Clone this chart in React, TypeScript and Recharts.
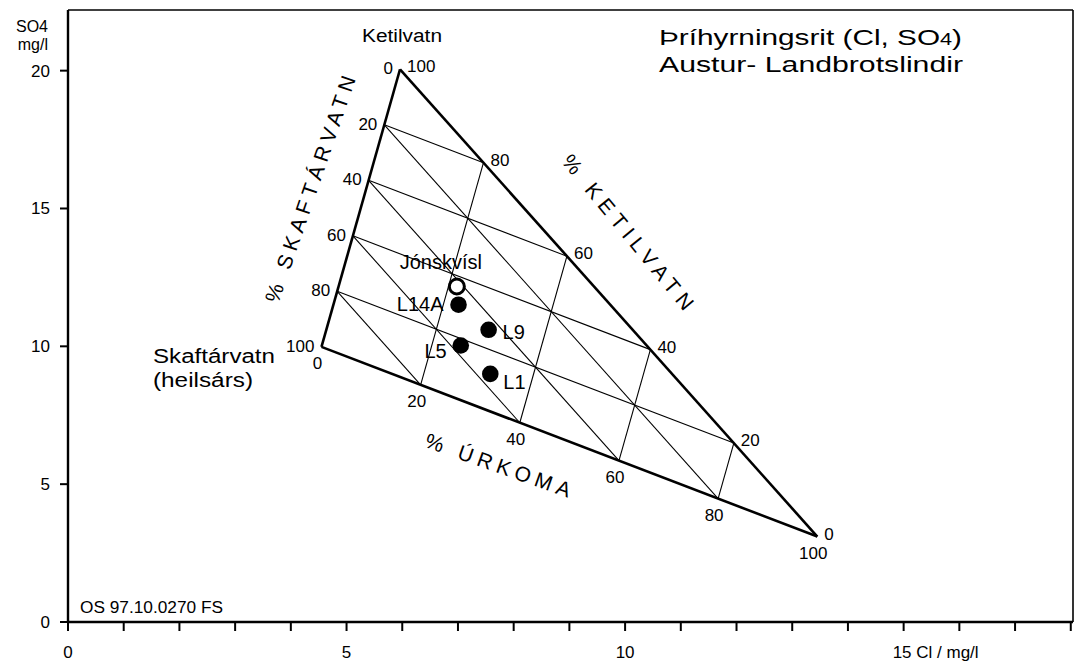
import React from 'react';
import { ScatterChart, Scatter, XAxis, YAxis, ReferenceLine } from 'recharts';

const FONT = '"Liberation Sans", Arial, Helvetica, sans-serif';

// end-members of the mixing triangle (Cl, SO4 in mg/l)
const endMemberNames = ['Ketilvatn', 'Skaftárvatn', 'Úrkoma'];
const endMemberCl = [5.96, 4.55, 13.45];
const endMemberSO4 = [20.05, 9.98, 3.1];

// river sample (open circle)
const riverNames = ['Jónskvísl'];
const riverCl = [6.98];
const riverSO4 = [12.17];

// spring samples (filled circles)
const springNames = ['L14A', 'L9', 'L5', 'L1'];
const springCl = [7.01, 7.55, 7.05, 7.58];
const springSO4 = [11.51, 10.6, 10.03, 9.0];

const gridLevels = [20, 40, 60, 80];
const percentTicks = [0, 20, 40, 60, 80, 100];

const xTicks = [0, 1, 2, 3, 4, 5, 6, 7, 8, 9, 10, 11, 12, 13, 14, 15, 16, 17, 18];
const xTickLabels: Record<number, string> = { 0: '0', 5: '5', 10: '10', 15: '15 Cl / mg/l' };
const yTicks = [0, 5, 10, 15, 20];

const X_MAX = 18.04;
const Y_MAX = 22.2;

// where each sample label sits relative to its marker
const labelPlacement: Record<string, { dx: number; dy: number; anchor: string }> = {
  'Jónskvísl': { dx: -16, dy: -18, anchor: 'middle' },
  L14A: { dx: -15, dy: 6, anchor: 'end' },
  L9: { dx: 14, dy: 9, anchor: 'start' },
  L5: { dx: -14, dy: 13, anchor: 'end' },
  L1: { dx: 13, dy: 15, anchor: 'start' },
};

const vertex = endMemberNames.map((_, i) => ({ x: endMemberCl[i], y: endMemberSO4[i] }));
const [K, S, U] = vertex;

// fractions of Ketilvatn, Skaftárvatn, Úrkoma -> Cl/SO4 position
const mix = (k: number, s: number, u: number) => ({
  x: k * K.x + s * S.x + u * U.x,
  y: k * K.y + s * S.y + u * U.y,
});

const sides = [
  [K, S],
  [S, U],
  [U, K],
];

const gridSegments = gridLevels.flatMap((p) => {
  const f = p / 100;
  return [
    [mix(f, 1 - f, 0), mix(f, 0, 1 - f)],
    [mix(1 - f, f, 0), mix(0, f, 1 - f)],
    [mix(0, 1 - f, f), mix(1 - f, 0, f)],
  ];
});

const skaftTicks = percentTicks.map((p) => ({ ...mix(1 - p / 100, p / 100, 0), label: String(p) }));
const ketilTicks = percentTicks.map((p) => ({ ...mix(p / 100, 0, 1 - p / 100), label: String(p) }));
const urkTicks = percentTicks.map((p) => ({ ...mix(0, 1 - p / 100, p / 100), label: String(p) }));

const riverData = riverNames.map((name, i) => ({ name, x: riverCl[i], y: riverSO4[i] }));
const springData = springNames.map((name, i) => ({ name, x: springCl[i], y: springSO4[i] }));

const sideLabel = (anchor: string, dx: number, dy: number) => (props: any) => (
  <text
    x={props.cx + dx}
    y={props.cy + dy}
    textAnchor={anchor}
    fontSize={17}
    fontFamily={FONT}
    fill="#000"
  >
    {props.payload.label}
  </text>
);

const pointShape = (filled: boolean) => (props: any) => {
  const { cx, cy, payload } = props;
  const pl = labelPlacement[payload.name];
  return (
    <g>
      <circle
        cx={cx}
        cy={cy}
        r={filled ? 8.3 : 7.5}
        fill={filled ? '#000' : '#fff'}
        stroke="#000"
        strokeWidth={filled ? 0 : 3}
      />
      <text
        x={cx + pl.dx}
        y={cy + pl.dy}
        textAnchor={pl.anchor}
        fontSize={20}
        fontFamily={FONT}
        fill="#000"
      >
        {payload.name}
      </text>
    </g>
  );
};

const XTick = (props: any) => {
  const { x, y, payload } = props;
  const label = xTickLabels[payload.value];
  if (!label) return null;
  const wide = payload.value === 15;
  return (
    <text
      x={wide ? x - 11 : x}
      y={y + 25}
      textAnchor={wide ? 'start' : 'middle'}
      fontSize={17}
      fontFamily={FONT}
      fill="#000"
    >
      {label}
    </text>
  );
};

const YTick = (props: any) => {
  const { x, y, payload } = props;
  return (
    <text x={x - 8} y={y + 6} textAnchor="end" fontSize={17} fontFamily={FONT} fill="#000">
      {payload.value}
    </text>
  );
};

const txt = { fontFamily: FONT, fill: '#000' };

export default function App() {
  return (
    <div style={{ position: 'relative', width: 1076, height: 664, background: '#fff' }}>
      <style>{'body{margin:0}'}</style>
      <ScatterChart width={1076} height={664} margin={{ top: 10, right: 3, bottom: 0, left: 0 }}>
        <XAxis
          type="number"
          dataKey="x"
          domain={[0, X_MAX]}
          ticks={xTicks}
          allowDataOverflow
          height={42}
          tickSize={9}
          tick={<XTick />}
          tickLine={{ stroke: '#000', strokeWidth: 2 }}
          axisLine={{ stroke: '#000', strokeWidth: 2.4 }}
        />
        <YAxis
          type="number"
          dataKey="y"
          domain={[0, Y_MAX]}
          ticks={yTicks}
          allowDataOverflow
          width={68}
          tickSize={8}
          tick={<YTick />}
          tickLine={{ stroke: '#000', strokeWidth: 2 }}
          axisLine={{ stroke: '#000', strokeWidth: 2.4 }}
        />
        <ReferenceLine y={Y_MAX} stroke="#000" strokeWidth={1.6} />
        <ReferenceLine x={X_MAX} stroke="#000" strokeWidth={1.6} />

        {gridSegments.map((seg, i) => (
          <ReferenceLine key={'g' + i} segment={seg} stroke="#000" strokeWidth={1.1} ifOverflow="visible" />
        ))}
        {sides.map((seg, i) => (
          <ReferenceLine key={'s' + i} segment={seg} stroke="#000" strokeWidth={2.6} ifOverflow="visible" />
        ))}

        <Scatter data={skaftTicks} shape={sideLabel('end', -7, 5)} isAnimationActive={false} />
        <Scatter data={ketilTicks} shape={sideLabel('start', 7, 3)} isAnimationActive={false} />
        <Scatter data={urkTicks} shape={sideLabel('middle', -4, 22)} isAnimationActive={false} />

        <Scatter data={riverData} shape={pointShape(false)} isAnimationActive={false} />
        <Scatter data={springData} shape={pointShape(true)} isAnimationActive={false} />
      </ScatterChart>

      <svg
        width={1076}
        height={664}
        style={{ position: 'absolute', left: 0, top: 0, pointerEvents: 'none' }}
      >
        <text x={48} y={32} textAnchor="end" fontSize={16} {...txt}>SO4</text>
        <text x={48} y={50} textAnchor="end" fontSize={16} {...txt}>mg/l</text>

        <text x={659} y={45} fontSize={22} textLength={303} lengthAdjust="spacingAndGlyphs" {...txt}>
          Þríhyrningsrit (Cl, SO<tspan fontSize={16}>4</tspan>)
        </text>
        <text x={659} y={72} fontSize={22} textLength={304} lengthAdjust="spacingAndGlyphs" {...txt}>
          Austur- Landbrotslindir
        </text>

        <text x={402} y={42} textAnchor="middle" fontSize={18} textLength={80} lengthAdjust="spacingAndGlyphs" {...txt}>
          Ketilvatn
        </text>
        <text x={153} y={363} fontSize={20} textLength={122} lengthAdjust="spacingAndGlyphs" {...txt}>
          Skaftárvatn
        </text>
        <text x={153} y={387} fontSize={20} textLength={100} lengthAdjust="spacingAndGlyphs" {...txt}>
          (heilsárs)
        </text>

        <text
          x={0}
          y={0}
          transform="translate(310 189) rotate(-71)"
          textAnchor="middle"
          dominantBaseline="central"
          fontSize={21}
          textLength={238}
          lengthAdjust="spacing"
          {...txt}
        >
          % SKAFTÁRVATN
        </text>
        <text
          x={0}
          y={0}
          transform="translate(628 232) rotate(50.6)"
          textAnchor="middle"
          dominantBaseline="central"
          fontSize={21}
          textLength={194}
          lengthAdjust="spacing"
          {...txt}
        >
          % KETILVATN
        </text>
        <text
          x={0}
          y={0}
          transform="translate(498 465) rotate(19.5)"
          textAnchor="middle"
          dominantBaseline="central"
          fontSize={21}
          textLength={153}
          lengthAdjust="spacing"
          {...txt}
        >
          % ÚRKOMA
        </text>

        <text x={80} y={613} fontSize={16} textLength={143} lengthAdjust="spacingAndGlyphs" {...txt}>
          OS 97.10.0270 FS
        </text>
      </svg>
    </div>
  );
}
